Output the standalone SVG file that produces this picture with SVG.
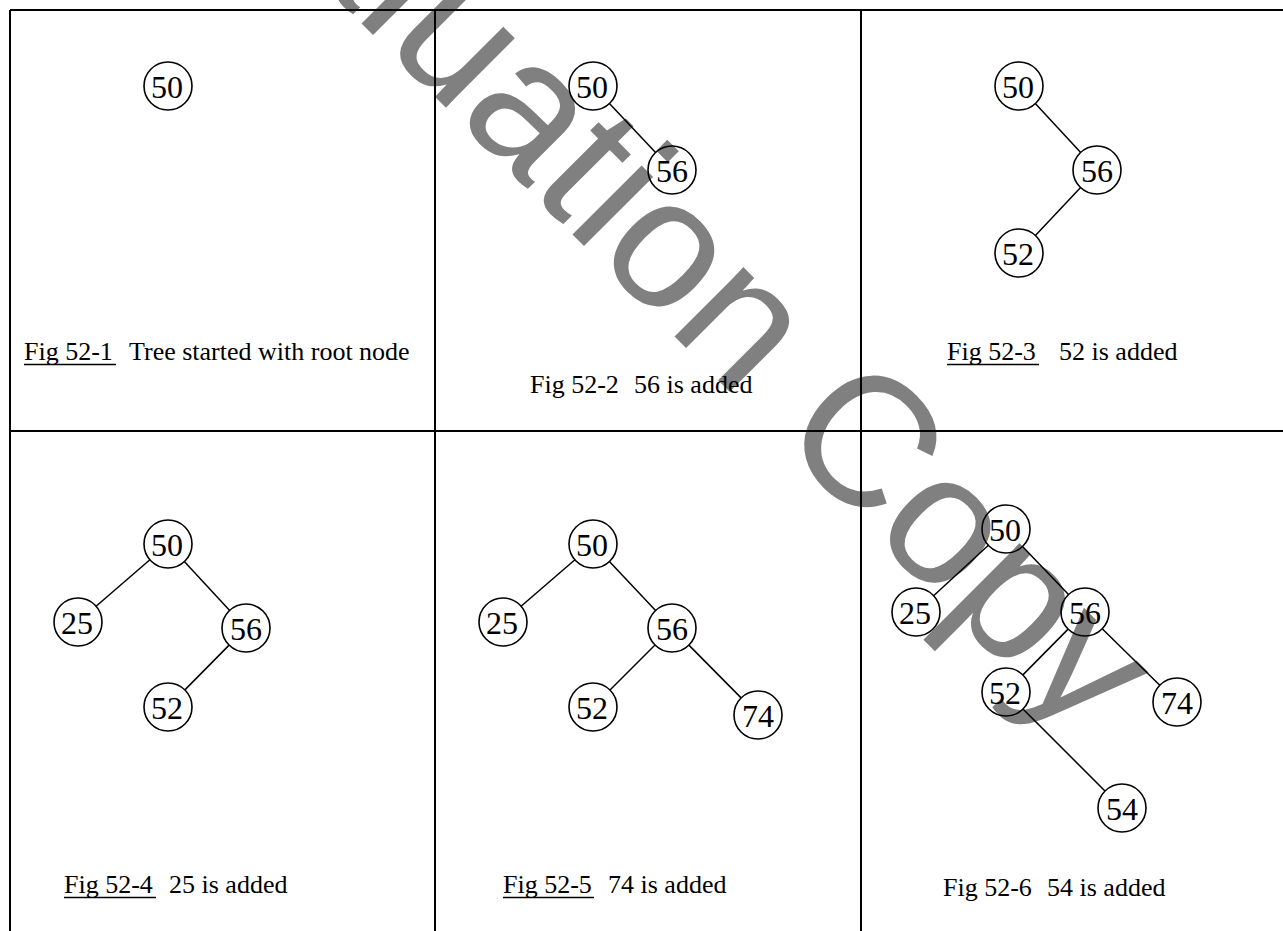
<svg xmlns="http://www.w3.org/2000/svg" width="1283" height="931" viewBox="0 0 1283 931">
<style>
.grid{stroke:#000;stroke-width:2;fill:none}
.node circle{fill:none;stroke:#000;stroke-width:1.6}
.node text{font-family:"Liberation Serif","Times New Roman",serif;font-size:32px;text-anchor:middle;fill:#000}
.edge line{stroke:#000;stroke-width:1.5}
.cap{font-family:"Liberation Serif","Times New Roman",serif;font-size:26px;fill:#000}
.ul{stroke:#000;stroke-width:1.5}
.wm{font-family:"Liberation Sans",Arial,sans-serif;font-size:185px;fill:#808080}
</style>
<rect width="1283" height="931" fill="#fff"/>
<g id="watermark"><text class="wm" transform="translate(127.4,-210.7) rotate(45)">Evaluation Copy</text></g>
<g id="grid" class="grid">
<line x1="10" y1="10" x2="1283" y2="10"/>
<line x1="10" y1="431" x2="1283" y2="431"/>
<line x1="10" y1="10" x2="10" y2="931"/>
<line x1="435" y1="10" x2="435" y2="931"/>
<line x1="861" y1="10" x2="861" y2="931"/>
</g>
<g id="connectors" class="edge">
<line x1="609.4" y1="103.5" x2="655.6" y2="152.5"/>
<line x1="1035.3" y1="103.6" x2="1080.7" y2="152.4"/>
<line x1="1080.6" y1="187.5" x2="1035.4" y2="235.5"/>
<line x1="149.9" y1="559.7" x2="96.1" y2="606.3"/>
<line x1="184.3" y1="561.6" x2="229.7" y2="610.4"/>
<line x1="229.1" y1="645.1" x2="184.9" y2="689.9"/>
<line x1="574.9" y1="559.7" x2="521.1" y2="606.3"/>
<line x1="609.4" y1="561.5" x2="655.6" y2="610.5"/>
<line x1="655" y1="645" x2="610" y2="690"/>
<line x1="688.9" y1="645.1" x2="741.1" y2="697.9"/>
<line x1="988.4" y1="545.3" x2="933.6" y2="595.7"/>
<line x1="1022.5" y1="546.4" x2="1068.5" y2="594.6"/>
<line x1="1068.1" y1="629.1" x2="1022.9" y2="674.9"/>
<line x1="1102.2" y1="628.8" x2="1159.8" y2="685.2"/>
<line x1="1023" y1="709" x2="1105" y2="791"/>
</g>
<g id="p1-n50" class="node"><circle cx="168" cy="86" r="24"/><text x="167" y="98">50</text></g>
<g id="p2-n50" class="node"><circle cx="593" cy="86" r="24"/><text x="592" y="98">50</text></g>
<g id="p2-n56" class="node"><circle cx="672" cy="170" r="24"/><text x="672" y="182">56</text></g>
<g id="p3-n50" class="node"><circle cx="1019" cy="86" r="24"/><text x="1018" y="98">50</text></g>
<g id="p3-n56" class="node"><circle cx="1097" cy="170" r="24"/><text x="1097" y="182">56</text></g>
<g id="p3-n52" class="node"><circle cx="1019" cy="253" r="24"/><text x="1018" y="265">52</text></g>
<g id="p4-n50" class="node"><circle cx="168" cy="544" r="24"/><text x="167" y="556">50</text></g>
<g id="p4-n25" class="node"><circle cx="78" cy="622" r="24"/><text x="77" y="634">25</text></g>
<g id="p4-n56" class="node"><circle cx="246" cy="628" r="24"/><text x="246" y="640">56</text></g>
<g id="p4-n52" class="node"><circle cx="168" cy="707" r="24"/><text x="167" y="719">52</text></g>
<g id="p5-n50" class="node"><circle cx="593" cy="544" r="24"/><text x="592" y="556">50</text></g>
<g id="p5-n25" class="node"><circle cx="503" cy="622" r="24"/><text x="502" y="634">25</text></g>
<g id="p5-n56" class="node"><circle cx="672" cy="628" r="24"/><text x="672" y="640">56</text></g>
<g id="p5-n52" class="node"><circle cx="593" cy="707" r="24"/><text x="592" y="719">52</text></g>
<g id="p5-n74" class="node"><circle cx="758" cy="715" r="24"/><text x="758" y="727">74</text></g>
<g id="p6-n50" class="node"><circle cx="1006" cy="529" r="24"/><text x="1005" y="541">50</text></g>
<g id="p6-n25" class="node"><circle cx="916" cy="612" r="24"/><text x="915" y="624">25</text></g>
<g id="p6-n56" class="node"><circle cx="1085" cy="612" r="24"/><text x="1085" y="624">56</text></g>
<g id="p6-n52" class="node"><circle cx="1006" cy="692" r="24"/><text x="1005" y="704">52</text></g>
<g id="p6-n74" class="node"><circle cx="1177" cy="702" r="24"/><text x="1177" y="714">74</text></g>
<g id="p6-n54" class="node"><circle cx="1122" cy="808" r="24"/><text x="1122" y="820">54</text></g>
<g id="captions">
<text class="cap" x="24" y="360">Fig 52-1</text><text class="cap" x="129" y="360">Tree started with root node</text><line class="ul" x1="24" y1="364.5" x2="116" y2="364.5"/>
<text class="cap" x="530" y="393">Fig 52-2</text><text class="cap" x="634" y="393">56 is added</text>
<text class="cap" x="947" y="360">Fig 52-3</text><text class="cap" x="1059" y="360">52 is added</text><line class="ul" x1="947" y1="364.5" x2="1039" y2="364.5"/>
<text class="cap" x="64" y="893">Fig 52-4</text><text class="cap" x="169" y="893">25 is added</text><line class="ul" x1="64" y1="897.5" x2="156" y2="897.5"/>
<text class="cap" x="503" y="893">Fig 52-5</text><text class="cap" x="608" y="893">74 is added</text><line class="ul" x1="503" y1="897.5" x2="594" y2="897.5"/>
<text class="cap" x="943" y="896">Fig 52-6</text><text class="cap" x="1047" y="896">54 is added</text>
</g>
</svg>
